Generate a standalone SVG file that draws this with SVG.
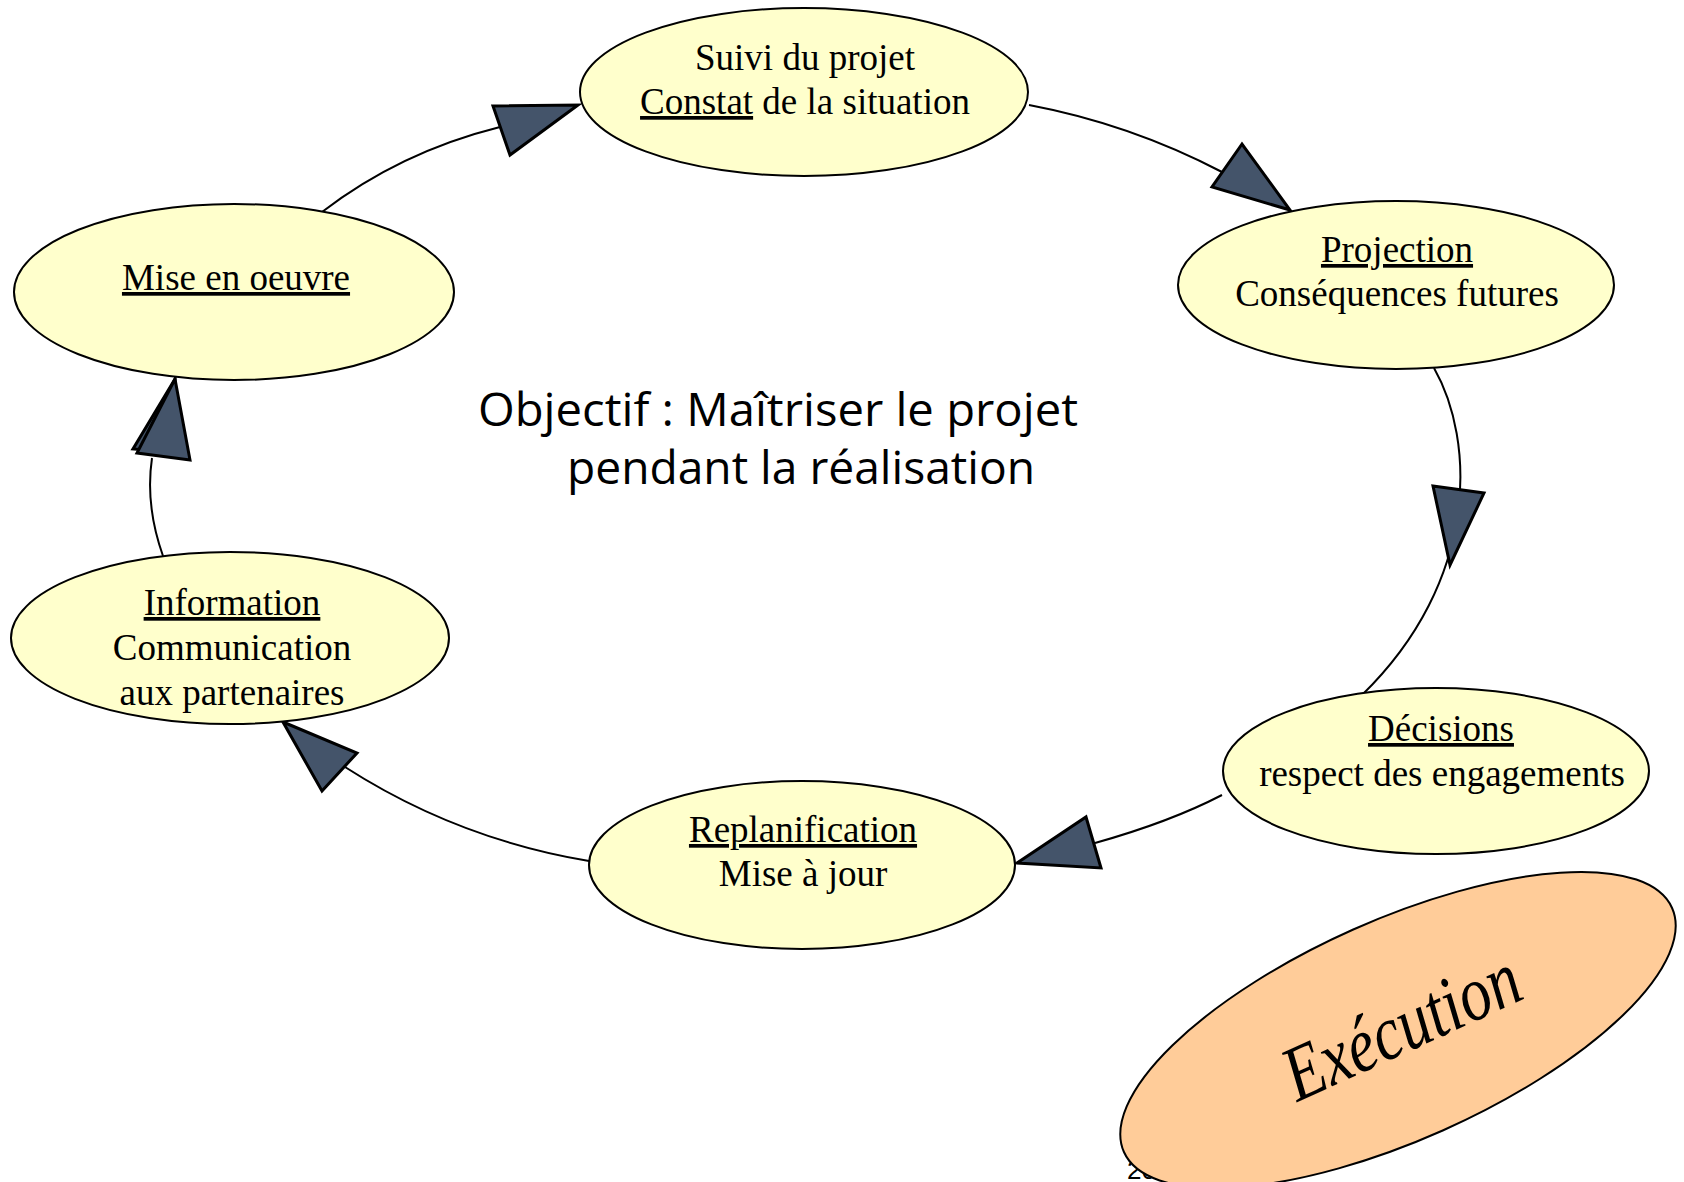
<svg xmlns="http://www.w3.org/2000/svg" width="1684" height="1182" viewBox="0 0 1684 1182">
<style>
.node{fill:#FFFFCC;stroke:#000;stroke-width:2}
.t{font-family:"Liberation Serif","Times New Roman",serif;font-size:37px;fill:#000;text-anchor:middle}
.u{text-decoration:underline}
.conn{fill:none;stroke:#000;stroke-width:2}
.arr{fill:#44546A;stroke:#000;stroke-width:3;stroke-linejoin:miter}
</style>
<rect width="1684" height="1182" fill="#fff"/>
<text x="1127" y="1179" font-family="Liberation Sans, Arial, sans-serif" font-size="26">20</text>
<g id="connectors">
<path class="conn" d="M322,212 Q400,152 500,127"/>
<polygon class="arr" points="493,106 578,105 510,155"/>
<path class="conn" d="M1029,105 Q1130,124 1222,172"/>
<polygon class="arr" points="1242,144 1212,187 1290,210"/>
<path class="conn" d="M1434,368 C1475,440 1480,580 1362,695"/>
<polygon class="arr" points="1433,486 1484,493 1450,565"/>
<path class="conn" d="M1222,795 Q1170,822 1095,843"/>
<polygon class="arr" points="1017,863 1086,817 1101,868"/>
<path class="conn" d="M589,861 Q457,839 345,767"/>
<polygon class="arr" points="283,722 357,753 322,791"/>
<path class="conn" d="M163,556 Q145,505 152,458"/>
<polygon class="arr" points="175,379 133,449 175,452"/>
<polygon class="arr" points="175,379 137,453 190,460"/>
</g>
<g id="suivi">
<ellipse class="node" cx="804" cy="92" rx="224" ry="84"/>
<text class="t" x="805" y="70">Suivi du projet</text>
<text class="t" x="805" y="114"><tspan class="u">Constat</tspan> de la situation</text>
</g>
<g id="projection">
<ellipse class="node" cx="1396" cy="285" rx="218" ry="84"/>
<text class="t" x="1397" y="262"><tspan class="u">Projection</tspan></text>
<text class="t" x="1397" y="306">Conséquences futures</text>
</g>
<g id="decisions">
<ellipse class="node" cx="1436" cy="771" rx="213" ry="83"/>
<text class="t" x="1441" y="741"><tspan class="u">Décisions</tspan></text>
<text class="t" x="1442" y="786">respect des engagements</text>
</g>
<g id="replanification">
<ellipse class="node" cx="802" cy="865" rx="213" ry="84"/>
<text class="t" x="803" y="842"><tspan class="u">Replanification</tspan></text>
<text class="t" x="803" y="886">Mise à jour</text>
</g>
<g id="information">
<ellipse class="node" cx="230" cy="638" rx="219" ry="86"/>
<text class="t" x="232" y="615"><tspan class="u">Information</tspan></text>
<text class="t" x="232" y="660">Communication</text>
<text class="t" x="232" y="705">aux partenaires</text>
</g>
<g id="mise-en-oeuvre">
<ellipse class="node" cx="234" cy="292" rx="220" ry="88"/>
<text class="t" x="236" y="290"><tspan class="u">Mise en oeuvre</tspan></text>
</g>
<g id="objectif">
<text font-family="Open Sans, Liberation Sans, sans-serif" font-size="46" x="478" y="426" textLength="600" lengthAdjust="spacingAndGlyphs">Objectif : Maîtriser le projet</text>
<text font-family="Open Sans, Liberation Sans, sans-serif" font-size="46" x="567" y="484" textLength="468" lengthAdjust="spacingAndGlyphs">pendant la réalisation</text>
</g>
<g id="execution">
<ellipse cx="0" cy="0" rx="300" ry="110" transform="translate(1398,1030) rotate(-24)" fill="#FFCC99" stroke="#000" stroke-width="2"/>
<text transform="translate(1412,1050) rotate(-24.5) scale(1,1.26)" font-family="Liberation Serif, Times New Roman, serif" font-style="italic" font-size="62" text-anchor="middle" textLength="252" lengthAdjust="spacingAndGlyphs">Exécution</text>
</g>
</svg>
